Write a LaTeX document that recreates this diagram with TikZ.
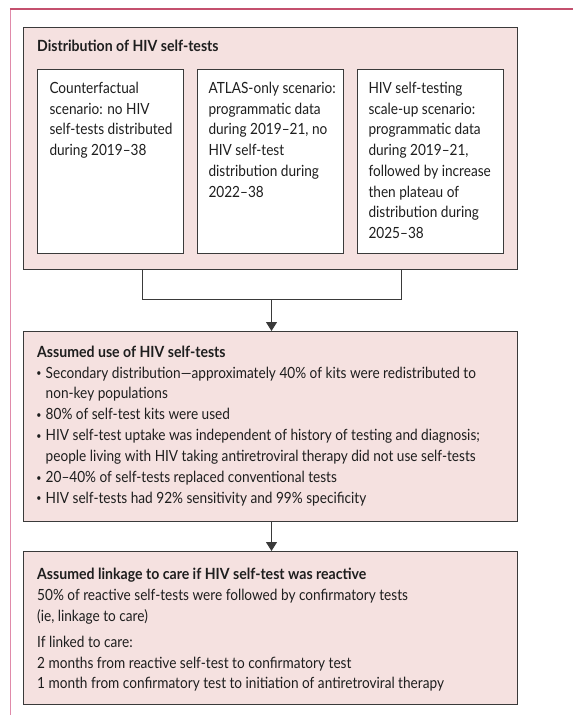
\documentclass[tikz,border=0pt]{standalone}
\usepackage{fontspec}
\setmainfont{Lato}[FakeStretch=0.885, BoldFeatures={FakeStretch=0.915}]
\usetikzlibrary{arrows.meta}
\definecolor{boxfill}{HTML}{F5E1E0}
\definecolor{boxline}{HTML}{3A3A3A}
\definecolor{txtcol}{HTML}{1E1E1E}
\definecolor{frametop}{HTML}{C4506E}
\definecolor{frameleft}{HTML}{E08AAA}
\tikzset{
  outerbox/.style={draw=boxline, line width=1pt, fill=boxfill},
  innerbox/.style={draw=boxline, line width=1pt, fill=white},
  txt/.style={anchor=base west, inner sep=0pt, text=txtcol, font=\fontsize{15.4}{20}\selectfont},
  btxt/.style={txt, font=\fontsize{15.4}{20}\selectfont\bfseries},
  bul/.style={anchor=base, inner sep=0pt, text=txtcol, font=\fontsize{10}{12}\selectfont},
  conn/.style={draw=boxline, line width=1pt},
  arr/.style={conn, -{Triangle[length=9pt,width=11pt]}}
}
\begin{document}
\begin{tikzpicture}[x=1pt,y=-1pt]
\useasboundingbox (0,0) rectangle (573,715);
% frame
\draw[frameleft, line width=1.5pt] (10.5,9) -- (10.5,715);
\draw[frametop, line width=1.5pt] (9.75,9) -- (573,9);
% box 1
\node[outerbox, minimum width=494pt, minimum height=242pt, anchor=north west] (dist) at (23,27) {};
\node[btxt] (distT) at (37,51) {Distribution of HIV self-tests};
\node[innerbox, minimum width=146pt, minimum height=184pt, anchor=north west] (sa) at (37,69) {};
\node[innerbox, minimum width=146pt, minimum height=184pt, anchor=north west] (sb) at (197,69) {};
\node[innerbox, minimum width=146pt, minimum height=184pt, anchor=north west] (sc) at (357,69) {};
\foreach \t [count=\i from 0] in {Counterfactual, scenario: no HIV, self-tests distributed, during 2019–38}
  \node[txt] (sa\i) at (49.3,93.5+20.7*\i) {\t};
\foreach \t [count=\i from 0] in {ATLAS-only scenario:, programmatic data, {during 2019–21, no}, HIV self-test, distribution during, 2022–38}
  \node[txt] (sb\i) at (208.3,93.5+20.7*\i) {\t};
\foreach \t [count=\i from 0] in {HIV self-testing, scale-up scenario:, programmatic data, {during 2019–21,}, followed by increase, then plateau of, distribution during, 2025–38}
  \node[txt] (sc\i) at (368.3,93.5+20.7*\i) {\t};
% box 2
\node[outerbox, minimum width=494pt, minimum height=190pt, anchor=north west] (use) at (23,331) {};
\node[btxt] (useT) at (37,357) {Assumed use of HIV self-tests};
\foreach \y in {378, 419.8, 440.7, 482.5, 503.4}
  \node[bul] at (39,\y-1.5) {•};
\node[txt] (u1) at (45.5,378) {Secondary distribution—approximately 40\% of kits were redistributed to};
\node[txt] (u2) at (45.5,398.9) {non-key populations};
\node[txt] (u3) at (45.5,419.8) {80\% of self-test kits were used};
\node[txt] (u4) at (45.5,440.7) {HIV self-test uptake was independent of history of testing and diagnosis;};
\node[txt] (u5) at (45.5,461.6) {people living with HIV taking antiretroviral therapy did not use self-tests};
\node[txt] (u6) at (45.5,482.5) {20–40\% of self-tests replaced conventional tests};
\node[txt] (u7) at (45.5,503.4) {HIV self-tests had 92\% sensitivity and 99\% specificity};
% box 3
\node[outerbox, minimum width=494pt, minimum height=153pt, anchor=north west] (link) at (23,551) {};
\node[btxt] (linkT) at (37,579) {Assumed linkage to care if HIV self-test was reactive};
\node[txt] (l1) at (37,600) {50\% of reactive self-tests were followed by confirmatory tests};
\node[txt] (l2) at (37,621) {(ie, linkage to care)};
\node[txt] (l3) at (37,647) {If linked to care:};
\node[txt] (l4) at (37,668) {2 months from reactive self-test to confirmatory test};
\node[txt] (l5) at (37,688) {1 month from confirmatory test to initiation of antiretroviral therapy};
% connectors
\coordinate (j1) at (142,299);
\coordinate (j2) at (401,299);
\coordinate (jm) at (271.5,299);
\draw[conn] (dist.south -| j1) -- (j1) -- (j2) -- (dist.south -| j2);
\draw[arr] (jm) -- (use.north -| jm);
\draw[arr] (use.south -| jm) -- (link.north -| jm);
\end{tikzpicture}
\end{document}
